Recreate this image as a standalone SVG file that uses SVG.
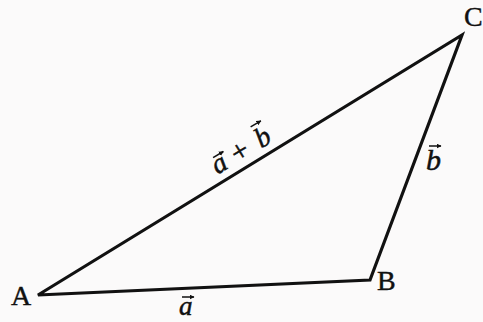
<svg xmlns="http://www.w3.org/2000/svg" width="483" height="322" viewBox="0 0 483 322">
<style>
.lbl{font-family:"Liberation Serif","DejaVu Serif",serif;font-size:28px;fill:#111;stroke:#111;stroke-width:0.4}
.vec{font-family:"Liberation Serif","DejaVu Serif",serif;font-size:28px;font-style:italic;fill:#111;stroke:#111;stroke-width:0.5}
.op{font-family:"Liberation Serif","DejaVu Serif",serif;font-size:30px;fill:#111;stroke:#111;stroke-width:0.5}
.arr{stroke:#111;stroke-width:1.5;fill:none;marker-end:url(#ah)}
</style>
<defs>
<marker id="ah" viewBox="0 0 10 10" refX="9" refY="5" markerWidth="5" markerHeight="5" orient="auto" markerUnits="userSpaceOnUse">
<path d="M0,0 L10,5 L0,10 Z" fill="#111"/>
</marker>
</defs>
<rect width="483" height="322" fill="#fbfafa"/>
<g id="connectors">
<path d="M38,295 L370,280 L462,35 Z" fill="none" stroke="#111" stroke-width="3.2" stroke-linejoin="miter"/>
</g>
<g id="A"><text class="lbl" x="11" y="305">A</text></g>
<g id="B"><text class="lbl" x="377" y="290">B</text></g>
<g id="C"><text class="lbl" x="464" y="26">C</text></g>
<g id="label-ab">
<g transform="translate(240,152) rotate(-31)">
<text class="vec" x="-31" y="8">a</text>
<text class="op" x="0" y="9" text-anchor="middle">+</text>
<text class="vec" x="20" y="8">b</text>
<path class="arr" d="M-26,-9 L-14,-9"/>
<path class="arr" d="M22,-16 L34,-16"/>
</g>
</g>
<g id="label-b">
<text class="vec" x="426" y="170" style="font-size:30px">b</text>
<path class="arr" d="M429,146 L441,146"/>
</g>
<g id="label-a">
<text class="vec" x="179" y="315" style="font-size:27px">a</text>
<path class="arr" d="M182,297 L194,297"/>
</g>
</svg>
